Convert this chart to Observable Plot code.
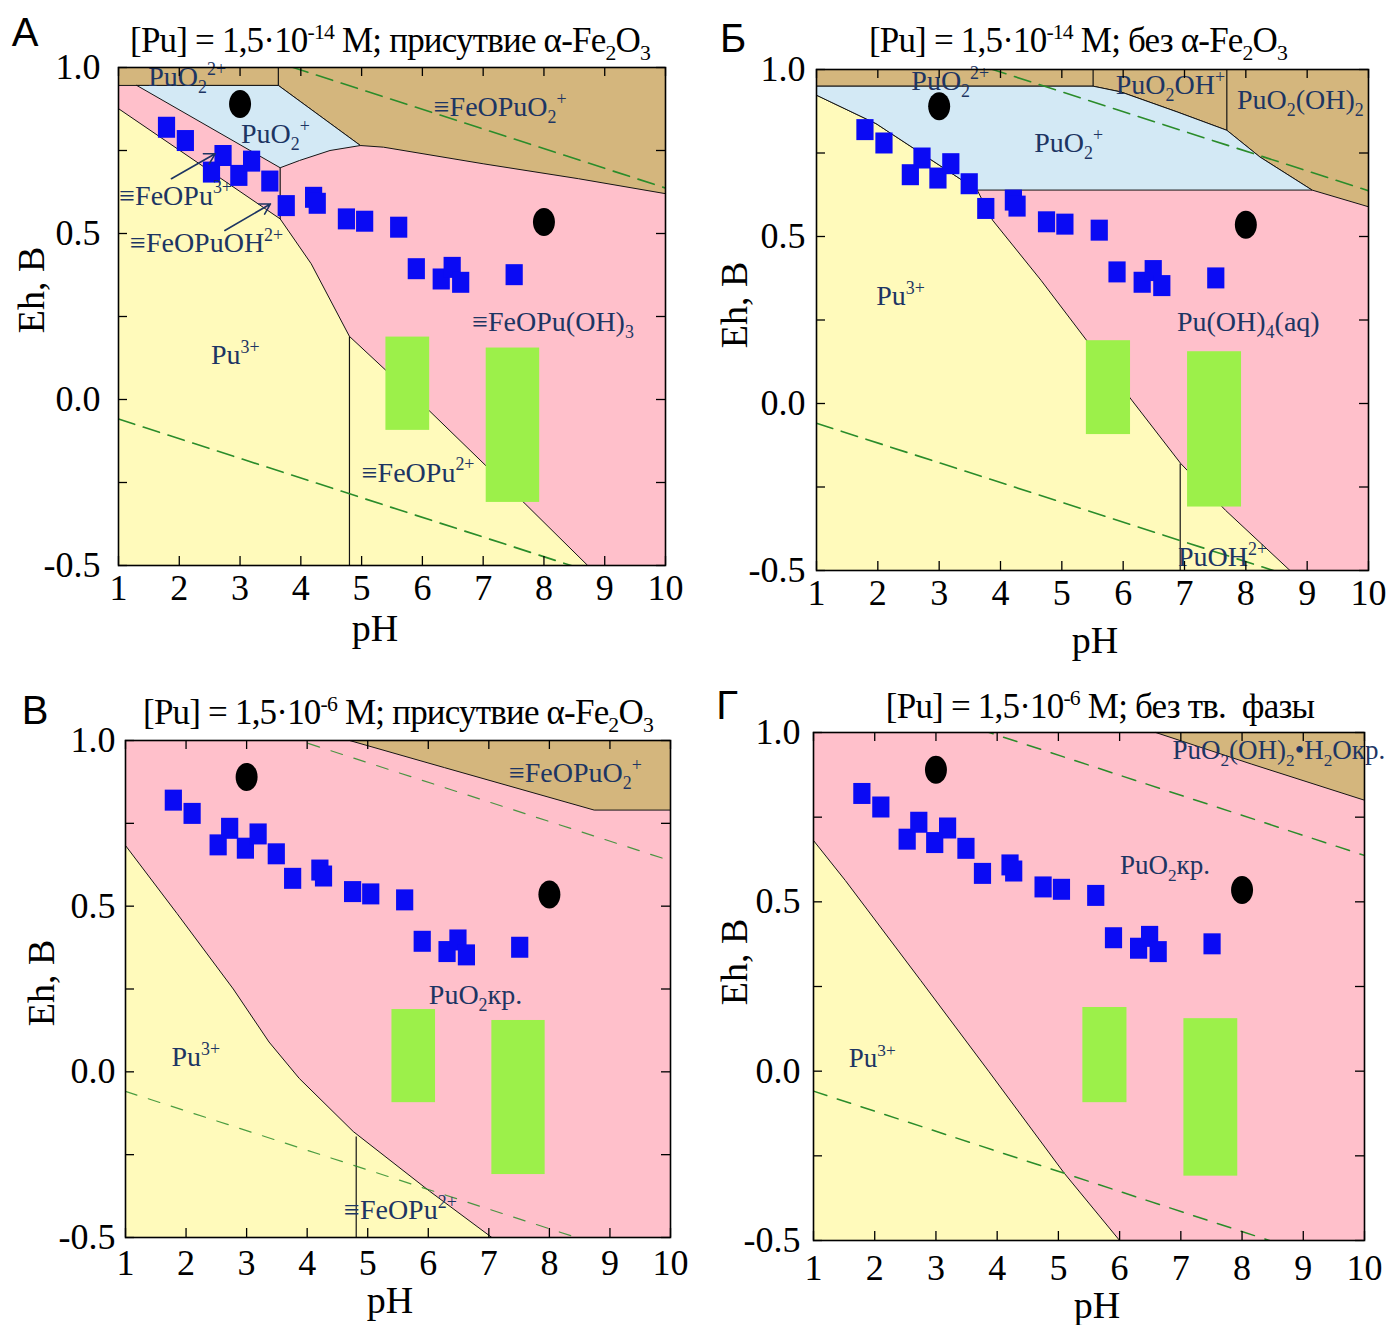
<!DOCTYPE html>
<html><head><meta charset="utf-8">
<script src="https://cdn.jsdelivr.net/npm/d3@7"></script>
<script src="https://cdn.jsdelivr.net/npm/@observablehq/plot@0.6"></script>
<style>
body{margin:0;background:#fff;}
#wrap{position:relative;width:1396px;height:1325px;overflow:hidden;background:#fff;font-family:"Liberation Serif",serif;color:#000;}
.abs{position:absolute;white-space:nowrap;line-height:1;transform:translate(-50%,-50%);}
.title{font-size:35px;letter-spacing:-0.8px;}
.letter{font-family:"Liberation Sans",Arial,sans-serif;font-size:40px;}
.axt{font-size:38px;}
.rot{transform:translate(-50%,-50%) rotate(-90deg);}
sup,sub{font-size:62%;line-height:0;}
.panel{position:absolute;}
.panel svg{overflow:visible;}
</style></head><body><div id="wrap"></div><script>
// ---------- shared data ----------
const pHTicks = [1, 2, 3, 4, 5, 6, 7, 8, 9, 10];
const ehTicks = [-0.5, -0.25, 0, 0.25, 0.5, 0.75, 1.0];
const ehLabels = [-0.5, 0, 0.5, 1.0];

// measured points (blue squares)
const sitePH = [1.79, 2.10, 2.53, 2.72, 2.98, 3.19, 3.49, 3.76, 4.21, 4.27, 4.75, 5.05, 5.61, 5.90, 6.31, 6.49, 6.63, 7.51];
const siteEh = [0.820, 0.780, 0.685, 0.735, 0.675, 0.718, 0.658, 0.584, 0.609, 0.591, 0.544, 0.537, 0.519, 0.394, 0.363, 0.398, 0.353, 0.376];
// black circles
const refPH = [3.0, 8.0];
const refEh = [0.89, 0.535];
// green zones
const zonePHLow = [5.40, 7.05];
const zonePHHigh = [6.12, 7.93];
const zoneEhLow = [-0.093, -0.31];
const zoneEhHigh = [0.188, 0.155];
// water stability lines (dashed)
const waterPH = [1, 10];
const waterUpperEh = [1.17, 0.637];
const waterLowerEh = [-0.059, -0.592];

// ---------- panel А ----------
const A_yellow = [[1,-0.5],[1,0.876],[3.66,0.544],[4.17,0.409],[4.8,0.19],[6.12,-0.035],[7.69,-0.314],[8.72,-0.5]];
const A_tan = [[1,1],[10,1],[10,0.62],[8.57,0.665],[7.0,0.71],[5.36,0.76],[4.98,0.765],[3.63,0.946],[1,0.946]];
const A_blue = [[1.30,0.946],[3.63,0.946],[4.98,0.765],[4.48,0.75],[3.98,0.72],[3.66,0.698]];
const A_segs = [[4.8,0.19,4.8,-0.5],[3.63,1,3.63,0.946],[3.66,0.698,3.66,0.544]];
const A_labelText = ["PuO{_2}{^2+}","≡FeOPuO{_2}{^+}","PuO{_2}{^+}","≡FeOPu{^3+}","≡FeOPuOH{^2+}","≡FeOPu(OH){_3}","Pu{^3+}","≡FeOPu{^2+}"];
const A_labelPH = [2.13, 7.28, 3.58, 1.94, 2.45, 8.15, 2.92, 5.93];
const A_labelEh = [0.972, 0.88, 0.80, 0.614, 0.47, 0.232, 0.133, -0.22];
const A_arrows = [[1.87,0.665,2.59,0.74],[2.75,0.509,3.50,0.589]];

// ---------- panel Б ----------
const B_yellow = [[1,-0.5],[1,0.923],[1.97,0.838],[3.62,0.639],[3.87,0.549],[4.66,0.369],[5.40,0.19],[6.14,0.01],[6.94,-0.18],[7.67,-0.32],[8.72,-0.5]];
const B_tan = [[1,1],[10,1],[10,0.589],[9.08,0.639],[8.23,0.738],[7.69,0.818],[6.88,0.873],[5.96,0.933],[5.51,0.95],[1,0.95]];
const B_blue = [[1,0.95],[5.51,0.95],[5.96,0.933],[6.88,0.873],[7.69,0.818],[8.23,0.738],[9.08,0.639],[3.62,0.639],[1.97,0.838],[1,0.923]];
const B_segs = [[5.51,1,5.51,0.95],[7.69,1,7.69,0.818],[6.93,-0.18,6.93,-0.5]];
const B_labelText = ["PuO{_2}{^2+}","PuO{_2}OH{^+}","PuO{_2}(OH){_2}","PuO{_2}{^+}","Pu{^3+}","Pu(OH){_4}(aq)","PuOH{^2+}"];
const B_labelPH = [3.18, 6.77, 8.89, 5.11, 2.37, 8.04, 7.62];
const B_labelEh = [0.965, 0.953, 0.908, 0.78, 0.321, 0.243, -0.46];

// ---------- panel В ----------
const C_yellow = [[1,-0.5],[1,0.683],[1.85,0.478],[2.78,0.25],[3.37,0.09],[3.87,-0.02],[4.76,-0.18],[6.02,-0.36],[7.05,-0.5]];
const C_tan = [[4.70,1],[10,1],[10,0.79],[8.74,0.79],[6.27,0.918]];
const C_segs = [[4.81,-0.195,4.81,-0.5]];
const C_labelText = ["≡FeOPuO{_2}{^+}","PuO{_2}кр.","Pu{^3+}","≡FeOPu{^2+}"];
const C_labelPH = [8.43, 6.78, 2.16, 5.54];
const C_labelEh = [0.902, 0.233, 0.044, -0.418];

// ---------- panel Г ----------
const D_yellow = [[1,-0.5],[1,0.681],[1.52,0.563],[2.75,0.268],[3.86,0.0],[5.09,-0.30],[6.0,-0.5]];
const D_tan = [[6.59,1],[10,1],[10,0.80],[8.15,0.907]];
const D_labelText = ["PuO{_2}(OH){_2}•H{_2}Oкр.","PuO{_2}кр.","Pu{^3+}"];
const D_labelPH = [8.60, 6.74, 1.96];
const D_labelEh = [0.946, 0.608, 0.037];

// ---------- style ----------
const COL = {pink:"#ffc0cb", yellow:"#fffabb", blue:"#d3e9f5", tan:"#d4b67d", green:"#9cf04a",
  square:"#0a0af4", ink:"#1d3563", water:"#2a8c2a", edge:"#151515"};

const rectSymbol = {draw(ctx, size){ const r = Math.sqrt(size/Math.PI); const w = 1.72*r, h = 2.1*r; ctx.rect(-w/2, -h/2, w, h); }};
const ellipseSymbol = {draw(ctx, size){ const r = Math.sqrt(size/Math.PI); const rx = 1.1*r, ry = 1.4*r, k = 0.5523;
  ctx.moveTo(rx,0); ctx.bezierCurveTo(rx,k*ry,k*rx,ry,0,ry); ctx.bezierCurveTo(-k*rx,ry,-rx,k*ry,-rx,0);
  ctx.bezierCurveTo(-rx,-k*ry,-k*rx,-ry,0,-ry); ctx.bezierCurveTo(k*rx,-ry,rx,-k*ry,rx,0); ctx.closePath(); }};

const sites = sitePH.map((p,i)=>({pH:p, Eh:siteEh[i]}));
const refs = refPH.map((p,i)=>({pH:p, Eh:refEh[i]}));
const zones = zonePHLow.map((p,i)=>({x1:p, x2:zonePHHigh[i], y1:zoneEhLow[i], y2:zoneEhHigh[i]}));
const waterUpper = waterPH.map((p,i)=>({pH:p, Eh:waterUpperEh[i]}));
const waterLower = waterPH.map((p,i)=>({pH:p, Eh:waterLowerEh[i]}));

function richify(svg, fs){
  svg.querySelectorAll("g.labels text").forEach(t=>{
    const s = t.textContent; if(!s.includes("{")) return;
    while(t.firstChild) t.removeChild(t.firstChild);
    const re = /\{([_^])([^}]*)\}|([^{]+)/g; let m, cur = 0;
    while((m = re.exec(s))){
      const ts = document.createElementNS("http://www.w3.org/2000/svg","tspan");
      let target = 0, txt;
      if(m[3] !== undefined){ txt = m[3]; }
      else { txt = m[2]; target = m[1] === "_" ? 0.25*fs : -0.4*fs; ts.setAttribute("font-size", (0.64*fs).toFixed(1)); }
      if(target - cur !== 0) ts.setAttribute("dy", (target-cur).toFixed(2));
      cur = target; ts.textContent = txt; t.appendChild(ts);
    }
  });
}

function panel(cfg){
  const iw = cfg.width - cfg.ml - cfg.mr, ih = cfg.height - cfg.mt - cfg.mb;
  const poly = (pts, fill) => Plot.line(pts.concat([pts[0]]), {x:d=>d[0], y:d=>d[1], fill, stroke:COL.edge, strokeWidth:1});
  const labels = cfg.labelText.map((t,i)=>({t, pH:cfg.labelPH[i], Eh:cfg.labelEh[i]}));
  const marks = [
    Plot.frame({fill:COL.pink, stroke:null}),
    poly(cfg.yellow, COL.yellow)
  ];
  if(cfg.tan) marks.push(poly(cfg.tan, COL.tan));
  if(cfg.blue) marks.push(poly(cfg.blue, COL.blue));
  if(cfg.segs) marks.push(Plot.link(cfg.segs, {x1:d=>d[0], y1:d=>d[1], x2:d=>d[2], y2:d=>d[3], stroke:COL.edge, strokeWidth:1.2}));
  marks.push(
    Plot.rect(zones, {x1:"x1", x2:"x2", y1:"y1", y2:"y2", fill:COL.green}),
    Plot.line(waterUpper, {x:"pH", y:"Eh", stroke:COL.water, strokeWidth:cfg.dashW, strokeDasharray:cfg.dash, strokeOpacity:cfg.dashO, clip:true}),
    Plot.line(waterLower, {x:"pH", y:"Eh", stroke:COL.water, strokeWidth:cfg.dashW, strokeDasharray:cfg.dash, strokeOpacity:cfg.dashO, clip:true}),
    Plot.dot(sites, {x:"pH", y:"Eh", r:10, symbol:rectSymbol, fill:COL.square}),
    Plot.dot(refs, {x:"pH", y:"Eh", r:10, symbol:ellipseSymbol, fill:"#000"}),
    Plot.text(labels, {x:"pH", y:"Eh", text:"t", fill:COL.ink, fontSize:cfg.fs, fontFamily:"Liberation Serif", textAnchor:"middle", className:"labels"})
  );
  if(cfg.arrows) marks.push(Plot.arrow(cfg.arrows, {x1:d=>d[0], y1:d=>d[1], x2:d=>d[2], y2:d=>d[3], stroke:COL.ink, strokeWidth:1.6, headLength:11, bend:0}));
  marks.push(
    Plot.frame({stroke:"#000", strokeWidth:1.6}),
    Plot.tickX(pHTicks, {x:d=>d, insetTop:ih-9, stroke:"#000", strokeWidth:1.3}),
    Plot.tickX(pHTicks, {x:d=>d, insetBottom:ih-9, stroke:"#000", strokeWidth:1.3}),
    Plot.tickY(ehTicks, {y:d=>d, insetRight:iw-9, stroke:"#000", strokeWidth:1.3}),
    Plot.tickY(ehTicks, {y:d=>d, insetLeft:iw-9, stroke:"#000", strokeWidth:1.3}),
    Plot.axisX(pHTicks, {tickSize:0, tickPadding:cfg.xPad, fontSize:36, label:null}),
    Plot.axisY(ehLabels, {tickSize:0, tickPadding:cfg.yPad, fontSize:36, label:null, tickFormat:d=>d.toFixed(1)})
  );
  const svg = Plot.plot({
    width:cfg.width, height:cfg.height, marginLeft:cfg.ml, marginRight:cfg.mr, marginTop:cfg.mt, marginBottom:cfg.mb,
    x:{domain:[1,10]}, y:{domain:[-0.5,1.0]},
    style:{fontFamily:"Liberation Serif", fontSize:"36px", background:"transparent", color:"#000", overflow:"visible"},
    marks
  });
  richify(svg, cfg.fs);
  const div = document.createElement("div");
  div.className = "panel"; div.style.left = cfg.left+"px"; div.style.top = cfg.top+"px";
  div.appendChild(svg);
  document.getElementById("wrap").appendChild(div);
}

const base = {dash:"17,9", dashW:1.6, dashO:1, fs:28};
panel({...base, left:0, top:0, width:698, height:660, ml:118, mr:33, mt:67, mb:95, yPad:18, xPad:9,
  yellow:A_yellow, tan:A_tan, blue:A_blue, segs:A_segs, labelText:A_labelText, labelPH:A_labelPH, labelEh:A_labelEh, arrows:A_arrows});
panel({...base, left:698, top:0, width:698, height:660, ml:118, mr:28, mt:69, mb:90, yPad:11, xPad:9,
  yellow:B_yellow, tan:B_tan, blue:B_blue, segs:B_segs, labelText:B_labelText, labelPH:B_labelPH, labelEh:B_labelEh});
panel({...base, dash:"12,12", dashW:1.2, dashO:0.85, left:0, top:660, width:698, height:665, ml:125, mr:28, mt:80, mb:88, yPad:10, xPad:12,
  yellow:C_yellow, tan:C_tan, segs:C_segs, labelText:C_labelText, labelPH:C_labelPH, labelEh:C_labelEh});
panel({...base, fs:27, dash:"14,11", dashW:1.5, dashO:1, left:698, top:660, width:698, height:665, ml:115, mr:32, mt:72, mb:85, yPad:13, xPad:14,
  yellow:D_yellow, tan:D_tan, labelText:D_labelText, labelPH:D_labelPH, labelEh:D_labelEh});

// ---------- text outside the plots ----------
const texts = [
  ["letter","А",25,32],["letter","Б",733,38],["letter","В",35,710],["letter","Г",727,705],
  ["title","[Pu] = 1,5·10<sup>-14</sup> М; присутвие α-Fe<sub>2</sub>O<sub>3</sub>",390,40],
  ["title","[Pu] = 1,5·10<sup>-14</sup> М; без α-Fe<sub>2</sub>O<sub>3</sub>",1078,40],
  ["title","[Pu] = 1,5·10<sup>-6</sup> М; присутвие α-Fe<sub>2</sub>O<sub>3</sub>",398,712],
  ["title","[Pu] = 1,5·10<sup>-6</sup> М; без тв.&nbsp; фазы",1100,706],
  ["axt","pH",375,628],["axt","pH",1095,640],["axt","pH",390,1300],["axt","pH",1097,1305],
  ["axt rot","Eh, В",31,290],["axt rot","Eh, В",734,305],["axt rot","Eh, В",41,983],["axt rot","Eh, В",734,962]
];
for(const [cls, html, x, y] of texts){
  const d = document.createElement("div");
  d.className = "abs " + cls; d.innerHTML = html; d.style.left = x+"px"; d.style.top = y+"px";
  document.getElementById("wrap").appendChild(d);
}
</script></body></html>
